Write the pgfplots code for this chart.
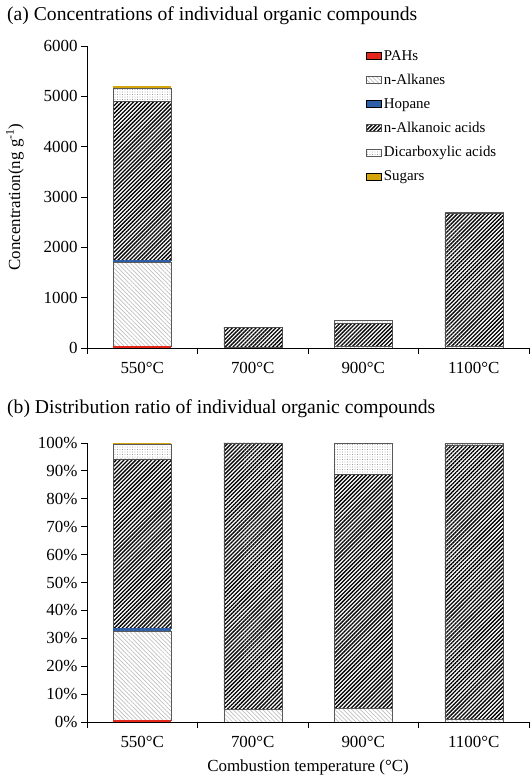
\documentclass[border=0pt]{standalone}
\usepackage{pgfplots}
\pgfplotsset{compat=1.18}
\usepackage{fontspec}
\setmainfont{Liberation Serif}
\usetikzlibrary{patterns.meta}
\definecolor{pahred}{HTML}{E4261B}
\definecolor{hopblue}{HTML}{2F5EA8}
\definecolor{sugar}{HTML}{D4A50A}
\pgfplotsset{
 myleg/.style={legend image code/.code={\draw[##1] (0bp,-3.5bp) rectangle (15bp,3.5bp);}},
 common/.style={
  scale only axis, width=442bp, ybar stacked, bar width=58bp,
  xmin=-0.5, xmax=3.5, ymin=0,
  axis x line*=bottom, axis y line*=left,
  xtick={0,1,2,3}, xticklabels={550°C,700°C,900°C,1100°C},
  minor xtick={-0.5,0.5,1.5,2.5,3.5},
  tick align=outside, major tick length=6bp, minor tick length=6bp,
  major x tick style={draw=none},
  tick style={black, line width=0.8bp},
  axis line style={line width=0.8bp},
  ticklabel style={font=\fontsize{17}{20}\selectfont},
  xticklabel style={yshift=-5bp},
  /pgf/number format/assume math mode=true,
  /pgf/number format/1000 sep={},
  every axis plot post/.append style={myleg},
 },
 pahs/.style={fill=pahred, draw=none},
 alk/.style={draw=gray!70!black, line width=0.4bp, pattern={Lines[angle=-45,distance=3bp,line width=0.7bp]}, pattern color=gray!50},
 hop/.style={fill=hopblue, draw=none},
 acid/.style={draw=gray!60!black, line width=0.4bp, pattern={Lines[angle=45,distance=2.8bp,line width=1.3bp]}, pattern color=black},
 dicarb/.style={draw=gray!70!black, line width=0.4bp, pattern={Dots[distance=2.5bp,radius=0.45bp]}, pattern color=gray!80!black},
 sug/.style={fill=sugar, draw=none},
}
\begin{document}
\begin{tikzpicture}[x=1bp,y=1bp]
\path[use as bounding box] (0,0) rectangle (532,782);
\node[anchor=base west, font=\fontsize{19.7}{22}\selectfont, inner sep=0] at (7,761) {(a) Concentrations of individual organic compounds};
\node[anchor=base west, font=\fontsize{19.7}{22}\selectfont, inner sep=0] at (7,368) {(b) Distribution ratio of individual organic compounds};
\begin{axis}[common, at={(87bp,434bp)}, anchor=south west, height=302bp,
  ymax=6000, ytick={0,1000,...,6000},
  ylabel={Concentration(ng g\textsuperscript{-1})},
  ylabel style={font=\fontsize{17}{20}\selectfont, at={(axis description cs:-0.163,0.5)}, anchor=center},
  legend style={at={(0.625,1.0)}, anchor=north west, draw=none, fill=none,
    font=\fontsize{15}{16}\selectfont, row sep=8.5bp},
  legend cell align=left]
\addplot[pahs] coordinates {(0,40) (1,0) (2,0) (3,0)};
\addplot[alk] coordinates {(0,1660) (1,19) (2,27) (3,30)};
\addplot[hop] coordinates {(0,45) (1,0) (2,0) (3,0)};
\addplot[acid] coordinates {(0,3160) (1,396) (2,458) (3,2640)};
\addplot[dicarb] coordinates {(0,265) (1,0) (2,62) (3,20)};
\addplot[sug] coordinates {(0,35) (1,0) (2,0) (3,0)};
\legend{PAHs, n-Alkanes, Hopane, n-Alkanoic acids, Dicarboxylic acids, Sugars}
\end{axis}
\begin{axis}[common, at={(87bp,60bp)}, anchor=south west, height=279bp,
  ymax=100, ytick={0,10,...,100},
  yticklabel={\pgfmathprintnumber{\tick}\%},
  xlabel={Combustion temperature (°C)},
  xlabel style={font=\fontsize{17}{20}\selectfont, yshift=-5bp}]
\addplot[pahs] coordinates {(0,0.8) (1,0) (2,0) (3,0)};
\addplot[alk] coordinates {(0,31.9) (1,4.6) (2,4.9) (3,1.1)};
\addplot[hop] coordinates {(0,0.9) (1,0) (2,0) (3,0)};
\addplot[acid] coordinates {(0,60.7) (1,95.4) (2,83.8) (3,98.2)};
\addplot[dicarb] coordinates {(0,5.1) (1,0) (2,11.3) (3,0.7)};
\addplot[sug] coordinates {(0,0.6) (1,0) (2,0) (3,0)};
\end{axis}
\end{tikzpicture}
\end{document}
